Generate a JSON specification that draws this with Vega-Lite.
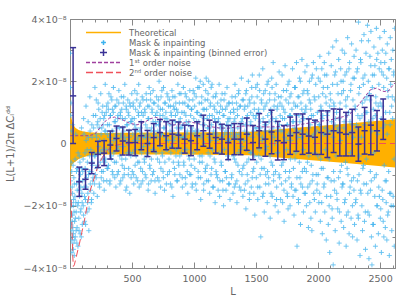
{
"$schema":"https://vega.github.io/schema/vega-lite/v6.json",
"width":325,"height":249,"autosize":"none",
"padding":{"left":70,"top":19,"right":12,"bottom":39},
"background":"white",
"config":{"view":{"stroke":"#888"},"font":"DejaVu Sans",
 "axis":{"domainColor":"#888","tickColor":"#888","labelColor":"#666","titleColor":"#666","labelFont":"DejaVu Sans","labelFontSize":9.5,"titleFont":"DejaVu Sans","titleFontSize":10,"titleFontWeight":"normal","grid":false,"tickWidth":1,"domainWidth":1},
 "legend":{"labelFont":"DejaVu Sans","labelFontSize":8.5,"labelColor":"#666","clipHeight":9.2,"rowPadding":0,"padding":0,"labelOffset":7,"symbolOffset":0,"labelLimit":300,"symbolSize":1225,"symbolStrokeWidth":1.5}},
"datasets":{
"band":[{"l":2,"u":3.15,"d":-4},{"l":3,"u":1.4,"d":-1.6},{"l":5,"u":1.05,"d":-0.95},{"l":8,"u":0.9,"d":-0.82},{"l":12,"u":0.8,"d":-0.74},{"l":20,"u":0.68,"d":-0.66},{"l":30,"u":0.58,"d":-0.62},{"l":45,"u":0.5,"d":-0.58},{"l":70,"u":0.43,"d":-0.5},{"l":100,"u":0.39,"d":-0.45},{"l":150,"u":0.36,"d":-0.39},{"l":250,"u":0.34,"d":-0.35},{"l":700,"u":0.35,"d":-0.35},{"l":1100,"u":0.36,"d":-0.36},{"l":1450,"u":0.38,"d":-0.38},{"l":1800,"u":0.5,"d":-0.49},{"l":2200,"u":0.63,"d":-0.62},{"l":2620,"u":0.78,"d":-0.77}],
"n1":[{"l":2,"v":0.25},{"l":150,"v":0.25},{"l":200,"v":0.3},{"l":240,"v":0.5},{"l":280,"v":0.7},{"l":320,"v":0.82},{"l":360,"v":0.85},{"l":420,"v":0.77},{"l":480,"v":0.65},{"l":540,"v":0.6},{"l":600,"v":0.68},{"l":650,"v":0.8},{"l":690,"v":0.84},{"l":730,"v":0.8},{"l":780,"v":0.68},{"l":830,"v":0.59},{"l":890,"v":0.63},{"l":960,"v":0.7},{"l":1040,"v":0.63},{"l":1120,"v":0.55},{"l":1200,"v":0.5},{"l":1280,"v":0.49},{"l":1360,"v":0.55},{"l":1440,"v":0.57},{"l":1520,"v":0.54},{"l":1600,"v":0.53},{"l":1700,"v":0.55},{"l":1800,"v":0.57},{"l":1900,"v":0.64},{"l":2000,"v":0.7},{"l":2100,"v":0.76},{"l":2180,"v":0.84},{"l":2240,"v":0.9},{"l":2300,"v":1.1},{"l":2360,"v":1.42},{"l":2420,"v":1.72},{"l":2470,"v":1.78},{"l":2520,"v":1.68},{"l":2560,"v":1.66},{"l":2620,"v":1.95}],
"n2":[{"l":3,"v":-1.1},{"l":8,"v":-1.6},{"l":12,"v":-2.2},{"l":17,"v":-2.9},{"l":22,"v":-3.6},{"l":27,"v":-3.95},{"l":35,"v":-3.9},{"l":50,"v":-3.65},{"l":77,"v":-3.2},{"l":117,"v":-2.45},{"l":158,"v":-1.57},{"l":184,"v":-1.25},{"l":220,"v":-0.8},{"l":260,"v":-0.45},{"l":300,"v":-0.22},{"l":350,"v":-0.08},{"l":420,"v":-0.01},{"l":500,"v":0},{"l":2620,"v":0}],
"bins":[{"l":25,"a":0,"b":50,"v":1.53,"lo":0.0,"hi":3.08},{"l":75,"a":50,"b":100,"v":-1.23,"lo":-1.7,"hi":-0.76},{"l":125,"a":100,"b":150,"v":-1.15,"lo":-1.47,"hi":-0.83},{"l":175,"a":150,"b":200,"v":-0.63,"lo":-0.97,"hi":-0.29},{"l":225,"a":200,"b":250,"v":-0.35,"lo":-0.77,"hi":0.07},{"l":275,"a":250,"b":300,"v":-0.31,"lo":-0.71,"hi":0.09},{"l":325,"a":300,"b":350,"v":-0.05,"lo":-0.5,"hi":0.4},{"l":375,"a":350,"b":400,"v":0.16,"lo":-0.24,"hi":0.56},{"l":425,"a":400,"b":450,"v":0.08,"lo":-0.37,"hi":0.53},{"l":475,"a":450,"b":500,"v":0.03,"lo":-0.37,"hi":0.43},{"l":525,"a":500,"b":550,"v":0.03,"lo":-0.39,"hi":0.45},{"l":575,"a":550,"b":600,"v":0.25,"lo":-0.2,"hi":0.7},{"l":625,"a":600,"b":650,"v":0.0,"lo":-0.42,"hi":0.42},{"l":675,"a":650,"b":700,"v":0.19,"lo":-0.26,"hi":0.64},{"l":725,"a":700,"b":750,"v":0.35,"lo":-0.07,"hi":0.77},{"l":775,"a":750,"b":800,"v":0.25,"lo":-0.2,"hi":0.7},{"l":825,"a":800,"b":850,"v":0.3,"lo":-0.15,"hi":0.75},{"l":875,"a":850,"b":900,"v":0.27,"lo":-0.15,"hi":0.69},{"l":925,"a":900,"b":950,"v":0.14,"lo":-0.31,"hi":0.59},{"l":975,"a":950,"b":1000,"v":0.09,"lo":-0.39,"hi":0.57},{"l":1025,"a":1000,"b":1050,"v":0.25,"lo":-0.2,"hi":0.7},{"l":1075,"a":1050,"b":1100,"v":0.41,"lo":-0.09,"hi":0.91},{"l":1125,"a":1100,"b":1150,"v":0.3,"lo":-0.15,"hi":0.75},{"l":1175,"a":1150,"b":1200,"v":0.19,"lo":-0.31,"hi":0.69},{"l":1225,"a":1200,"b":1250,"v":0.14,"lo":-0.34,"hi":0.62},{"l":1275,"a":1250,"b":1300,"v":0.03,"lo":-0.52,"hi":0.58},{"l":1325,"a":1300,"b":1350,"v":0.14,"lo":-0.36,"hi":0.64},{"l":1375,"a":1350,"b":1400,"v":0.14,"lo":-0.36,"hi":0.64},{"l":1425,"a":1400,"b":1450,"v":0.3,"lo":-0.22,"hi":0.82},{"l":1475,"a":1450,"b":1500,"v":0.03,"lo":-0.52,"hi":0.58},{"l":1525,"a":1500,"b":1550,"v":0.41,"lo":-0.14,"hi":0.96},{"l":1575,"a":1550,"b":1600,"v":0.14,"lo":-0.41,"hi":0.69},{"l":1625,"a":1600,"b":1650,"v":0.37,"lo":-0.33,"hi":1.07},{"l":1675,"a":1650,"b":1700,"v":0.09,"lo":-0.53,"hi":0.71},{"l":1725,"a":1700,"b":1750,"v":0.03,"lo":-0.52,"hi":0.58},{"l":1775,"a":1750,"b":1800,"v":0.25,"lo":-0.35,"hi":0.85},{"l":1825,"a":1800,"b":1850,"v":0.35,"lo":-0.25,"hi":0.95},{"l":1875,"a":1850,"b":1900,"v":0.3,"lo":-0.35,"hi":0.95},{"l":1925,"a":1900,"b":1950,"v":0.24,"lo":-0.31,"hi":0.79},{"l":1975,"a":1950,"b":2000,"v":0.2,"lo":-0.35,"hi":0.75},{"l":2025,"a":2000,"b":2050,"v":0.35,"lo":-0.35,"hi":1.05},{"l":2075,"a":2050,"b":2100,"v":0.3,"lo":-0.45,"hi":1.05},{"l":2125,"a":2100,"b":2150,"v":0.41,"lo":-0.29,"hi":1.11},{"l":2175,"a":2150,"b":2200,"v":0.35,"lo":-0.4,"hi":1.1},{"l":2225,"a":2200,"b":2250,"v":0.3,"lo":-0.4,"hi":1.0},{"l":2275,"a":2250,"b":2300,"v":0.35,"lo":-0.4,"hi":1.1},{"l":2325,"a":2300,"b":2350,"v":-0.02,"lo":-0.57,"hi":0.53},{"l":2375,"a":2350,"b":2400,"v":0.41,"lo":-0.34,"hi":1.16},{"l":2425,"a":2400,"b":2450,"v":0.59,"lo":-0.36,"hi":1.54},{"l":2475,"a":2450,"b":2500,"v":0.41,"lo":-0.24,"hi":1.06},{"l":2525,"a":2500,"b":2550,"v":0.78,"lo":0.13,"hi":1.43}],
"pts":[{"l":3,"v":2.9},{"l":4,"v":1.8},{"l":5,"v":-1.2},{"l":6,"v":0.9},{"l":7,"v":-2.6},{"l":8,"v":1.3},{"l":9,"v":-0.6},{"l":10,"v":-3.1},{"l":12,"v":-1.9},{"l":13,"v":0.4},{"l":15,"v":-2.8},{"l":16,"v":-3.5},{"l":18,"v":-1.4},{"l":20,"v":-2.3},{"l":22,"v":0.6},{"l":24,"v":-3.2},{"l":26,"v":-2.0},{"l":28,"v":-2.9},{"l":31,"v":-1.1},{"l":34,"v":-3.6},{"l":37,"v":-2.5},{"l":40,"v":-1.7},{"l":43,"v":-3.0},{"l":46,"v":0.3},{"l":50,"v":-2.2},{"l":53,"v":-1.3},{"l":57,"v":-2.7},{"l":60,"v":-0.8},{"l":64,"v":-3.3},{"l":67,"v":-1.9},{"l":71,"v":-2.4},{"l":75,"v":-0.4},{"l":78,"v":-1.5},{"l":82,"v":-2.9},{"l":85,"v":-1.0},{"l":89,"v":-2.1},{"l":93,"v":0.5},{"l":96,"v":-1.6},{"l":99,"v":-2.6},
{"l":11,"v":-2.0},{"l":14,"v":-0.9},{"l":17,"v":-2.5},{"l":19,"v":-3.0},{"l":21,"v":-1.6},{"l":23,"v":-2.7},{"l":25,"v":-0.7},{"l":27,"v":-3.4},{"l":29,"v":-1.8},{"l":32,"v":-2.2},{"l":35,"v":-1.3},{"l":38,"v":-3.1},{"l":41,"v":-0.5},{"l":44,"v":-2.4},{"l":47,"v":-1.9},{"l":49,"v":-2.8},{"l":52,"v":-0.9},{"l":55,"v":-3.2},{"l":58,"v":-1.5},{"l":62,"v":-2.0},{"l":65,"v":-0.3},{"l":69,"v":-1.2},{"l":73,"v":-2.8},{"l":77,"v":-1.7},{"l":80,"v":-0.6},{"l":84,"v":-2.2},{"l":87,"v":-1.4},{"l":91,"v":-3.0},{"l":95,"v":-0.8},{"l":98,"v":-1.9},
{"l":103,"v":-0.9},{"l":107,"v":-2.0},{"l":110,"v":0.8},{"l":114,"v":-1.4},{"l":118,"v":-2.5},{"l":121,"v":-0.3},{"l":125,"v":-1.8},{"l":129,"v":1.2},{"l":133,"v":-1.1},{"l":137,"v":-2.2},{"l":140,"v":-0.6},{"l":144,"v":-1.6},{"l":148,"v":0.2},{"l":152,"v":-2.8},{"l":156,"v":-0.9},{"l":160,"v":1.5},{"l":164,"v":-1.3},{"l":168,"v":-0.2},{"l":172,"v":-1.9},{"l":176,"v":0.6},{"l":180,"v":-0.7},{"l":184,"v":-1.2},{"l":188,"v":0.9},{"l":192,"v":-1.6},{"l":196,"v":-0.4},
{"l":102,"v":-1.2},{"l":106,"v":-0.5},{"l":109,"v":-2.3},{"l":113,"v":0.3},{"l":117,"v":-1.7},{"l":122,"v":-0.8},{"l":126,"v":-2.6},{"l":130,"v":0.1},{"l":134,"v":-1.4},{"l":138,"v":-0.2},{"l":142,"v":-1.9},{"l":146,"v":0.7},{"l":150,"v":-1.0},{"l":154,"v":-2.1},{"l":158,"v":-0.4},{"l":162,"v":0.4},{"l":166,"v":-1.5},{"l":170,"v":-0.9},{"l":174,"v":-1.8},{"l":178,"v":0.2},{"l":182,"v":-0.6},{"l":186,"v":-1.1},{"l":190,"v":0.5},{"l":194,"v":-0.3},{"l":198,"v":-1.3},
{"l":201,"v":1.8},{"l":205,"v":-1.0},{"l":209,"v":0.3},{"l":212,"v":1.4},{"l":216,"v":-0.8},{"l":220,"v":-1.7},{"l":224,"v":0.7},{"l":228,"v":-0.3},{"l":232,"v":1.1},{"l":236,"v":-1.3},{"l":240,"v":0.1},{"l":244,"v":-0.6},{"l":248,"v":1.6},{"l":252,"v":-1.1},{"l":256,"v":0.5},{"l":260,"v":-0.2},{"l":264,"v":1.2},{"l":268,"v":-0.9},{"l":272,"v":0.8},{"l":276,"v":-1.5},{"l":280,"v":0.4},{"l":284,"v":1.9},{"l":288,"v":-0.5},{"l":292,"v":1.0},{"l":296,"v":-1.2},
{"l":203,"v":-0.4},{"l":207,"v":0.9},{"l":211,"v":-1.1},{"l":215,"v":0.2},{"l":219,"v":0.6},{"l":223,"v":-0.7},{"l":227,"v":1.3},{"l":231,"v":-0.1},{"l":235,"v":0.5},{"l":239,"v":-1.4},{"l":243,"v":0.8},{"l":247,"v":-0.3},{"l":251,"v":0.3},{"l":255,"v":-0.9},{"l":259,"v":1.0},{"l":263,"v":-0.5},{"l":267,"v":0.6},{"l":271,"v":-1.2},{"l":275,"v":0.1},{"l":279,"v":0.9},{"l":283,"v":-0.6},{"l":287,"v":0.4},{"l":291,"v":-0.2},{"l":295,"v":1.2},{"l":299,"v":-0.8},
{"l":302,"v":0.6},{"l":306,"v":1.3},{"l":310,"v":-0.7},{"l":314,"v":1.6},{"l":318,"v":0.2},{"l":322,"v":-1.2},{"l":326,"v":0.9},{"l":330,"v":1.5},{"l":334,"v":-0.4},{"l":338,"v":0.4},{"l":342,"v":1.1},{"l":346,"v":-1.0},{"l":350,"v":1.8},{"l":354,"v":0.1},{"l":358,"v":-0.6},{"l":362,"v":1.2},{"l":366,"v":0.7},{"l":370,"v":-1.4},{"l":374,"v":0.3},{"l":378,"v":1.4},{"l":382,"v":-0.2},{"l":386,"v":0.9},{"l":390,"v":-0.9},{"l":394,"v":1.7},{"l":398,"v":0.5},
{"l":301,"v":0.3},{"l":305,"v":-0.8},{"l":309,"v":1.1},{"l":313,"v":-0.2},{"l":317,"v":0.6},{"l":321,"v":-1.3},{"l":325,"v":0.9},{"l":329,"v":0.0},{"l":333,"v":-0.5},{"l":337,"v":1.4},{"l":341,"v":-0.9},{"l":345,"v":0.4},{"l":349,"v":1.0},{"l":353,"v":-0.3},{"l":357,"v":0.7},{"l":361,"v":-1.1},{"l":365,"v":0.2},{"l":369,"v":1.2},{"l":373,"v":-0.6},{"l":377,"v":0.5},{"l":381,"v":-1.0},{"l":385,"v":0.8},{"l":389,"v":-0.1},{"l":393,"v":1.3},
{"l":402,"v":-1.3},{"l":406,"v":1.0},{"l":410,"v":0.2},{"l":414,"v":1.5},{"l":418,"v":-0.5},{"l":422,"v":0.8},{"l":426,"v":-1.1},{"l":430,"v":1.3},{"l":434,"v":0.4},{"l":438,"v":-0.8},{"l":442,"v":1.9},{"l":446,"v":0.1},{"l":450,"v":-1.5},{"l":454,"v":1.1},{"l":458,"v":0.6},{"l":462,"v":-0.3},{"l":466,"v":1.4},{"l":470,"v":-1.0},{"l":474,"v":0.9},{"l":478,"v":0.2},{"l":482,"v":-1.6},{"l":486,"v":1.2},{"l":490,"v":-0.4},{"l":494,"v":0.7},{"l":498,"v":1.6},
{"l":401,"v":-0.4},{"l":405,"v":0.9},{"l":409,"v":-1.2},{"l":413,"v":0.3},{"l":417,"v":1.1},{"l":421,"v":-0.7},{"l":425,"v":0.5},{"l":429,"v":-0.1},{"l":433,"v":1.5},{"l":437,"v":-1.0},{"l":441,"v":0.2},{"l":445,"v":0.8},{"l":449,"v":-0.5},{"l":453,"v":1.2},{"l":457,"v":-1.4},{"l":461,"v":0.6},{"l":465,"v":0.0},{"l":469,"v":1.0},{"l":473,"v":-0.8},{"l":477,"v":0.4},{"l":481,"v":1.3},{"l":485,"v":-0.3},{"l":489,"v":0.7},{"l":493,"v":-1.1},
{"l":502,"v":-0.9},{"l":506,"v":0.3},{"l":510,"v":1.2},{"l":514,"v":-1.3},{"l":518,"v":0.8},{"l":522,"v":1.7},{"l":526,"v":-0.2},{"l":530,"v":0.5},{"l":534,"v":-1.1},{"l":538,"v":1.4},{"l":542,"v":0.1},{"l":546,"v":-0.6},{"l":550,"v":1.0},{"l":554,"v":1.9},{"l":558,"v":-1.4},{"l":562,"v":0.4},{"l":566,"v":1.3},{"l":570,"v":-0.8},{"l":574,"v":0.7},{"l":578,"v":-0.3},{"l":582,"v":1.5},{"l":586,"v":-1.2},{"l":590,"v":0.9},{"l":594,"v":0.2},{"l":598,"v":-0.5},
{"l":501,"v":0.8},{"l":505,"v":-0.3},{"l":509,"v":1.3},{"l":513,"v":-1.0},{"l":517,"v":0.1},{"l":521,"v":0.6},{"l":525,"v":-0.7},{"l":529,"v":1.1},{"l":533,"v":-0.4},{"l":537,"v":0.4},{"l":541,"v":1.6},{"l":545,"v":-1.2},{"l":549,"v":0.2},{"l":553,"v":0.9},{"l":557,"v":-0.6},{"l":561,"v":1.2},{"l":565,"v":-0.2},{"l":569,"v":0.5},{"l":573,"v":-1.3},{"l":577,"v":1.0},{"l":581,"v":0.3},{"l":585,"v":-0.9},{"l":589,"v":1.4},{"l":593,"v":-0.1},
{"l":602,"v":1.1},{"l":606,"v":-1.0},{"l":610,"v":0.6},{"l":614,"v":1.6},{"l":618,"v":-0.4},{"l":622,"v":0.3},{"l":626,"v":1.2},{"l":630,"v":-1.5},{"l":634,"v":0.8},{"l":638,"v":1.8},{"l":642,"v":-0.7},{"l":646,"v":0.2},{"l":650,"v":1.4},{"l":654,"v":-1.2},{"l":658,"v":0.5},{"l":662,"v":1.0},{"l":666,"v":-0.2},{"l":670,"v":1.7},{"l":674,"v":-0.9},{"l":678,"v":0.4},{"l":682,"v":1.3},{"l":686,"v":-1.6},{"l":690,"v":0.7},{"l":694,"v":-0.3},{"l":698,"v":1.5},
{"l":601,"v":-0.6},{"l":605,"v":1.0},{"l":609,"v":0.2},{"l":613,"v":-1.1},{"l":617,"v":1.4},{"l":621,"v":0.5},{"l":625,"v":-0.3},{"l":629,"v":0.8},{"l":633,"v":-1.3},{"l":637,"v":1.2},{"l":641,"v":0.0},{"l":645,"v":-0.8},{"l":649,"v":1.6},{"l":653,"v":0.4},{"l":657,"v":-0.5},{"l":661,"v":1.1},{"l":665,"v":-1.0},{"l":669,"v":0.7},{"l":673,"v":1.3},{"l":677,"v":-0.2},{"l":681,"v":0.3},{"l":685,"v":-1.2},{"l":689,"v":0.9},{"l":693,"v":0.6},
{"l":702,"v":0.2},{"l":706,"v":-1.1},{"l":710,"v":1.2},{"l":714,"v":0.6},{"l":718,"v":2.0},{"l":722,"v":-0.6},{"l":726,"v":0.9},{"l":730,"v":-1.4},{"l":734,"v":1.5},{"l":738,"v":0.3},{"l":742,"v":-0.3},{"l":746,"v":1.1},{"l":750,"v":-0.9},{"l":754,"v":1.8},{"l":758,"v":0.5},{"l":762,"v":-1.5},{"l":766,"v":0.8},{"l":770,"v":1.3},{"l":774,"v":-0.2},{"l":778,"v":0.1},{"l":782,"v":1.6},{"l":786,"v":-1.0},{"l":790,"v":0.7},{"l":794,"v":1.2},{"l":798,"v":-0.5},
{"l":701,"v":1.0},{"l":705,"v":-0.5},{"l":709,"v":0.4},{"l":713,"v":1.4},{"l":717,"v":-1.2},{"l":721,"v":0.7},{"l":725,"v":-0.1},{"l":729,"v":1.1},{"l":733,"v":-0.8},{"l":737,"v":0.3},{"l":741,"v":1.7},{"l":745,"v":-0.4},{"l":749,"v":0.9},{"l":753,"v":-1.1},{"l":757,"v":0.5},{"l":761,"v":1.3},{"l":765,"v":-0.6},{"l":769,"v":0.2},{"l":773,"v":1.0},{"l":777,"v":-1.3},{"l":781,"v":0.8},{"l":785,"v":-0.2},{"l":789,"v":1.5},{"l":793,"v":0.1},
{"l":802,"v":1.4},{"l":806,"v":0.4},{"l":810,"v":-1.3},{"l":814,"v":1.0},{"l":818,"v":-0.1},{"l":822,"v":1.7},{"l":826,"v":0.6},{"l":830,"v":-1.7},{"l":834,"v":1.2},{"l":838,"v":0.2},{"l":842,"v":-0.8},{"l":846,"v":1.5},{"l":850,"v":0.9},{"l":854,"v":-0.4},{"l":858,"v":1.1},{"l":862,"v":-1.2},{"l":866,"v":0.3},{"l":870,"v":1.9},{"l":874,"v":-0.6},{"l":878,"v":0.7},{"l":882,"v":1.3},{"l":886,"v":-1.0},{"l":890,"v":0.5},{"l":894,"v":1.6},{"l":898,"v":-0.3},
{"l":801,"v":-0.9},{"l":805,"v":0.6},{"l":809,"v":1.2},{"l":813,"v":-0.3},{"l":817,"v":0.9},{"l":821,"v":-1.4},{"l":825,"v":0.4},{"l":829,"v":1.5},{"l":833,"v":-0.6},{"l":837,"v":0.1},{"l":841,"v":1.1},{"l":845,"v":-1.0},{"l":849,"v":0.7},{"l":853,"v":1.3},{"l":857,"v":-0.2},{"l":861,"v":0.5},{"l":865,"v":-1.2},{"l":869,"v":1.0},{"l":873,"v":0.3},{"l":877,"v":-0.7},{"l":881,"v":1.6},{"l":885,"v":-0.4},{"l":889,"v":0.8},{"l":893,"v":0.2},
{"l":902,"v":1.0},{"l":906,"v":-1.4},{"l":910,"v":0.6},{"l":914,"v":1.8},{"l":918,"v":-0.7},{"l":922,"v":0.2},{"l":926,"v":1.3},{"l":930,"v":-1.1},{"l":934,"v":0.9},{"l":938,"v":1.5},{"l":942,"v":-0.2},{"l":946,"v":0.4},{"l":950,"v":-1.6},{"l":954,"v":1.2},{"l":958,"v":0.7},{"l":962,"v":-0.5},{"l":966,"v":1.7},{"l":970,"v":0.1},{"l":974,"v":-1.0},{"l":978,"v":1.1},{"l":982,"v":0.5},{"l":986,"v":-1.3},{"l":990,"v":1.4},{"l":994,"v":-0.3},{"l":998,"v":0.8},
{"l":901,"v":0.5},{"l":905,"v":-1.1},{"l":909,"v":1.3},{"l":913,"v":0.2},{"l":917,"v":-0.6},{"l":921,"v":1.0},{"l":925,"v":-0.2},{"l":929,"v":1.6},{"l":933,"v":-1.3},{"l":937,"v":0.7},{"l":941,"v":0.3},{"l":945,"v":-0.9},{"l":949,"v":1.2},{"l":953,"v":0.6},{"l":957,"v":-0.4},{"l":961,"v":1.4},{"l":965,"v":-1.0},{"l":969,"v":0.1},{"l":973,"v":0.9},{"l":977,"v":-0.7},{"l":981,"v":1.1},{"l":985,"v":-1.4},{"l":989,"v":0.4},{"l":993,"v":1.7},
{"l":1002,"v":1.6},{"l":1006,"v":-0.8},{"l":1010,"v":0.4},{"l":1014,"v":2.1},{"l":1018,"v":-1.5},{"l":1022,"v":1.0},{"l":1026,"v":0.2},{"l":1030,"v":1.8},{"l":1034,"v":-1.1},{"l":1038,"v":0.7},{"l":1042,"v":1.3},{"l":1046,"v":-0.4},{"l":1050,"v":2.0},{"l":1054,"v":-1.8},{"l":1058,"v":0.9},{"l":1062,"v":1.5},{"l":1066,"v":-0.6},{"l":1070,"v":0.3},{"l":1074,"v":1.9},{"l":1078,"v":-1.3},{"l":1082,"v":1.1},{"l":1086,"v":0.6},{"l":1090,"v":-0.9},{"l":1094,"v":1.7},{"l":1098,"v":2.1},
{"l":1001,"v":-0.5},{"l":1005,"v":1.2},{"l":1009,"v":0.3},{"l":1013,"v":-1.3},{"l":1017,"v":1.5},{"l":1021,"v":0.7},{"l":1025,"v":-0.2},{"l":1029,"v":1.0},{"l":1033,"v":-0.9},{"l":1037,"v":0.4},{"l":1041,"v":1.8},{"l":1045,"v":-0.6},{"l":1049,"v":0.9},{"l":1053,"v":-1.1},{"l":1057,"v":0.2},{"l":1061,"v":1.3},{"l":1065,"v":-0.4},{"l":1069,"v":0.6},{"l":1073,"v":1.1},{"l":1077,"v":-1.5},{"l":1081,"v":0.8},{"l":1085,"v":0.0},{"l":1089,"v":1.4},{"l":1093,"v":-0.8},
{"l":1102,"v":-1.2},{"l":1106,"v":0.8},{"l":1110,"v":1.4},{"l":1114,"v":-0.3},{"l":1118,"v":2.0},{"l":1122,"v":0.5},{"l":1126,"v":-1.6},{"l":1130,"v":1.2},{"l":1134,"v":0.1},{"l":1138,"v":1.8},{"l":1142,"v":-0.8},{"l":1146,"v":0.9},{"l":1150,"v":-1.4},{"l":1154,"v":1.5},{"l":1158,"v":0.4},{"l":1162,"v":-0.5},{"l":1166,"v":1.1},{"l":1170,"v":-1.9},{"l":1174,"v":0.7},{"l":1178,"v":1.6},{"l":1182,"v":-1.0},{"l":1186,"v":0.3},{"l":1190,"v":1.3},{"l":1194,"v":-1.5},{"l":1198,"v":0.8},
{"l":1101,"v":1.1},{"l":1105,"v":-0.7},{"l":1109,"v":0.5},{"l":1113,"v":1.6},{"l":1117,"v":-1.2},{"l":1121,"v":0.2},{"l":1125,"v":0.9},{"l":1129,"v":-0.4},{"l":1133,"v":1.3},{"l":1137,"v":-1.0},{"l":1141,"v":0.6},{"l":1145,"v":1.9},{"l":1149,"v":-0.2},{"l":1153,"v":0.3},{"l":1157,"v":-1.4},{"l":1161,"v":1.2},{"l":1165,"v":0.8},{"l":1169,"v":-0.6},{"l":1173,"v":1.5},{"l":1177,"v":-0.9},{"l":1181,"v":0.1},{"l":1185,"v":1.0},{"l":1189,"v":-1.1},{"l":1193,"v":0.7},
{"l":1202,"v":1.9},{"l":1206,"v":-1.7},{"l":1210,"v":0.5},{"l":1214,"v":1.2},{"l":1218,"v":-0.6},{"l":1222,"v":0.2},{"l":1226,"v":1.6},{"l":1230,"v":-1.2},{"l":1234,"v":0.9},{"l":1238,"v":-2.0},{"l":1242,"v":1.4},{"l":1246,"v":0.3},{"l":1250,"v":-0.9},{"l":1254,"v":1.1},{"l":1258,"v":-1.5},{"l":1262,"v":0.6},{"l":1266,"v":1.8},{"l":1270,"v":-0.4},{"l":1274,"v":0.8},{"l":1278,"v":-1.3},{"l":1282,"v":1.3},{"l":1286,"v":0.1},{"l":1290,"v":-1.8},{"l":1294,"v":1.0},{"l":1298,"v":0.5},
{"l":1201,"v":-0.3},{"l":1205,"v":1.0},{"l":1209,"v":-1.2},{"l":1213,"v":0.6},{"l":1217,"v":1.4},{"l":1221,"v":-0.7},{"l":1225,"v":0.2},{"l":1229,"v":1.1},{"l":1233,"v":-1.5},{"l":1237,"v":0.5},{"l":1241,"v":0.9},{"l":1245,"v":-0.2},{"l":1249,"v":1.6},{"l":1253,"v":-0.9},{"l":1257,"v":0.4},{"l":1261,"v":-1.1},{"l":1265,"v":1.2},{"l":1269,"v":0.1},{"l":1273,"v":0.7},{"l":1277,"v":-0.5},{"l":1281,"v":1.3},{"l":1285,"v":-1.3},{"l":1289,"v":0.8},{"l":1293,"v":0.3},
{"l":1302,"v":-1.1},{"l":1306,"v":1.5},{"l":1310,"v":0.4},{"l":1314,"v":-1.6},{"l":1318,"v":1.1},{"l":1322,"v":0.7},{"l":1326,"v":-0.5},{"l":1330,"v":1.9},{"l":1334,"v":-1.3},{"l":1338,"v":0.2},{"l":1342,"v":1.3},{"l":1346,"v":-1.9},{"l":1350,"v":0.9},{"l":1354,"v":-0.7},{"l":1358,"v":1.6},{"l":1362,"v":0.3},{"l":1366,"v":-1.4},{"l":1370,"v":1.2},{"l":1374,"v":-0.2},{"l":1378,"v":0.6},{"l":1382,"v":2.1},{"l":1386,"v":-1.0},{"l":1390,"v":0.8},{"l":1394,"v":-1.7},{"l":1398,"v":1.4},
{"l":1301,"v":0.6},{"l":1305,"v":-1.0},{"l":1309,"v":1.3},{"l":1313,"v":0.2},{"l":1317,"v":-0.4},{"l":1321,"v":1.0},{"l":1325,"v":-1.4},{"l":1329,"v":0.8},{"l":1333,"v":1.5},{"l":1337,"v":-0.6},{"l":1341,"v":0.3},{"l":1345,"v":-1.2},{"l":1349,"v":1.1},{"l":1353,"v":0.5},{"l":1357,"v":-0.3},{"l":1361,"v":1.7},{"l":1365,"v":-0.9},{"l":1369,"v":0.1},{"l":1373,"v":1.2},{"l":1377,"v":-1.5},{"l":1381,"v":0.7},{"l":1385,"v":-0.1},{"l":1389,"v":1.4},{"l":1393,"v":-0.8},
{"l":1402,"v":0.1},{"l":1406,"v":-1.5},{"l":1410,"v":1.2},{"l":1414,"v":0.6},{"l":1418,"v":-2.1},{"l":1422,"v":1.7},{"l":1426,"v":-0.6},{"l":1430,"v":0.9},{"l":1434,"v":-1.2},{"l":1438,"v":2.0},{"l":1442,"v":0.3},{"l":1446,"v":-1.8},{"l":1450,"v":1.3},{"l":1454,"v":-0.3},{"l":1458,"v":0.7},{"l":1462,"v":-1.4},{"l":1466,"v":1.5},{"l":1470,"v":2.2},{"l":1474,"v":-0.9},{"l":1478,"v":0.4},{"l":1482,"v":-1.6},{"l":1486,"v":1.1},{"l":1490,"v":-2.3},{"l":1494,"v":0.8},{"l":1498,"v":1.8},
{"l":1401,"v":-0.7},{"l":1405,"v":1.1},{"l":1409,"v":0.4},{"l":1413,"v":-1.3},{"l":1417,"v":1.6},{"l":1421,"v":-0.2},{"l":1425,"v":0.8},{"l":1429,"v":-1.0},{"l":1433,"v":1.2},{"l":1437,"v":0.3},{"l":1441,"v":-0.5},{"l":1445,"v":1.4},{"l":1449,"v":-1.6},{"l":1453,"v":0.6},{"l":1457,"v":1.0},{"l":1461,"v":-0.3},{"l":1465,"v":1.8},{"l":1469,"v":-1.1},{"l":1473,"v":0.2},{"l":1477,"v":0.9},{"l":1481,"v":-0.8},{"l":1485,"v":1.3},{"l":1489,"v":-0.4},{"l":1493,"v":0.5},
{"l":1502,"v":-1.1},{"l":1506,"v":0.5},{"l":1510,"v":1.9},{"l":1514,"v":-1.8},{"l":1518,"v":1.0},{"l":1522,"v":-0.4},{"l":1526,"v":2.2},{"l":1530,"v":-1.4},{"l":1534,"v":0.7},{"l":1538,"v":-3.0},{"l":1542,"v":1.4},{"l":1546,"v":-0.8},{"l":1550,"v":0.2},{"l":1554,"v":2.4},{"l":1558,"v":-1.6},{"l":1562,"v":1.1},{"l":1566,"v":-2.2},{"l":1570,"v":0.6},{"l":1574,"v":1.7},{"l":1578,"v":-1.0},{"l":1582,"v":-0.2},{"l":1586,"v":1.3},{"l":1590,"v":-1.9},{"l":1594,"v":0.9},{"l":1598,"v":2.0},
{"l":1501,"v":0.9},{"l":1505,"v":-0.6},{"l":1509,"v":1.5},{"l":1513,"v":-1.4},{"l":1517,"v":0.3},{"l":1521,"v":1.1},{"l":1525,"v":-0.2},{"l":1529,"v":1.7},{"l":1533,"v":-1.0},{"l":1537,"v":0.5},{"l":1541,"v":-0.5},{"l":1545,"v":1.3},{"l":1549,"v":0.1},{"l":1553,"v":-1.7},{"l":1557,"v":0.8},{"l":1561,"v":1.6},{"l":1565,"v":-0.8},{"l":1569,"v":0.4},{"l":1573,"v":1.2},{"l":1577,"v":-1.3},{"l":1581,"v":0.6},{"l":1585,"v":-0.1},{"l":1589,"v":1.9},{"l":1593,"v":-0.9},
{"l":1602,"v":-1.3},{"l":1606,"v":0.4},{"l":1610,"v":1.6},{"l":1614,"v":-2.4},{"l":1618,"v":1.1},{"l":1622,"v":-0.6},{"l":1626,"v":2.1},{"l":1630,"v":-1.7},{"l":1634,"v":0.8},{"l":1638,"v":2.6},{"l":1642,"v":-1.0},{"l":1646,"v":0.2},{"l":1650,"v":1.4},{"l":1654,"v":-2.0},{"l":1658,"v":0.7},{"l":1662,"v":1.9},{"l":1666,"v":-1.4},{"l":1670,"v":-0.3},{"l":1674,"v":1.2},{"l":1678,"v":-2.2},{"l":1682,"v":0.5},{"l":1686,"v":2.3},{"l":1690,"v":-1.1},{"l":1694,"v":0.9},{"l":1698,"v":-1.8},
{"l":1601,"v":-1.1},{"l":1605,"v":0.7},{"l":1609,"v":1.4},{"l":1613,"v":-0.4},{"l":1617,"v":1.0},{"l":1621,"v":-1.6},{"l":1625,"v":0.3},{"l":1629,"v":1.8},{"l":1633,"v":-0.7},{"l":1637,"v":0.5},{"l":1641,"v":-1.2},{"l":1645,"v":1.2},{"l":1649,"v":0.0},{"l":1653,"v":1.6},{"l":1657,"v":-0.9},{"l":1661,"v":0.8},{"l":1665,"v":-1.8},{"l":1669,"v":1.1},{"l":1673,"v":0.4},{"l":1677,"v":-0.3},{"l":1681,"v":1.5},{"l":1685,"v":-1.0},{"l":1689,"v":0.6},{"l":1693,"v":1.3},
{"l":1702,"v":1.5},{"l":1706,"v":-0.7},{"l":1710,"v":2.2},{"l":1714,"v":-1.9},{"l":1718,"v":0.4},{"l":1722,"v":1.1},{"l":1726,"v":-2.5},{"l":1730,"v":0.8},{"l":1734,"v":2.5},{"l":1738,"v":-1.2},{"l":1742,"v":0.1},{"l":1746,"v":1.7},{"l":1750,"v":-1.6},{"l":1754,"v":0.6},{"l":1758,"v":-2.1},{"l":1762,"v":1.3},{"l":1766,"v":2.0},{"l":1770,"v":-0.9},{"l":1774,"v":-2.0},{"l":1778,"v":0.9},{"l":1782,"v":1.6},{"l":1786,"v":-1.3},{"l":1790,"v":0.3},{"l":1794,"v":2.4},{"l":1798,"v":-1.7},
{"l":1701,"v":0.4},{"l":1705,"v":-1.3},{"l":1709,"v":1.2},{"l":1713,"v":0.8},{"l":1717,"v":-0.6},{"l":1721,"v":1.7},{"l":1725,"v":-1.5},{"l":1729,"v":0.2},{"l":1733,"v":1.0},{"l":1737,"v":-0.9},{"l":1741,"v":1.4},{"l":1745,"v":-0.2},{"l":1749,"v":0.6},{"l":1753,"v":-1.7},{"l":1757,"v":1.9},{"l":1761,"v":0.3},{"l":1765,"v":-1.1},{"l":1769,"v":0.9},{"l":1773,"v":1.5},{"l":1777,"v":-0.5},{"l":1781,"v":0.1},{"l":1785,"v":-1.4},{"l":1789,"v":1.1},{"l":1793,"v":0.7},
{"l":1802,"v":0.7},{"l":1806,"v":-2.3},{"l":1810,"v":1.8},{"l":1814,"v":-0.5},{"l":1818,"v":1.2},{"l":1822,"v":-1.5},{"l":1826,"v":2.6},{"l":1830,"v":-3.3},{"l":1834,"v":0.4},{"l":1838,"v":1.5},{"l":1842,"v":-1.9},{"l":1846,"v":0.9},{"l":1850,"v":2.1},{"l":1854,"v":-1.1},{"l":1858,"v":-2.6},{"l":1862,"v":1.3},{"l":1866,"v":0.2},{"l":1870,"v":2.7},{"l":1874,"v":-1.4},{"l":1878,"v":0.8},{"l":1882,"v":-2.2},{"l":1886,"v":1.7},{"l":1890,"v":-0.8},{"l":1894,"v":2.3},{"l":1898,"v":-1.6},
{"l":1801,"v":-0.8},{"l":1805,"v":1.3},{"l":1809,"v":0.5},{"l":1813,"v":-1.5},{"l":1817,"v":1.8},{"l":1821,"v":-0.3},{"l":1825,"v":0.9},{"l":1829,"v":-1.1},{"l":1833,"v":1.2},{"l":1837,"v":0.2},{"l":1841,"v":-1.8},{"l":1845,"v":1.5},{"l":1849,"v":-0.6},{"l":1853,"v":0.7},{"l":1857,"v":2.0},{"l":1861,"v":-1.3},{"l":1865,"v":0.4},{"l":1869,"v":1.1},{"l":1873,"v":-0.9},{"l":1877,"v":1.6},{"l":1881,"v":-0.2},{"l":1885,"v":0.8},{"l":1889,"v":-1.6},{"l":1893,"v":1.0},
{"l":1902,"v":1.1},{"l":1906,"v":-2.0},{"l":1910,"v":2.5},{"l":1914,"v":-0.6},{"l":1918,"v":1.6},{"l":1922,"v":-2.7},{"l":1926,"v":0.5},{"l":1930,"v":2.0},{"l":1934,"v":-1.3},{"l":1938,"v":1.3},{"l":1942,"v":-2.4},{"l":1946,"v":0.9},{"l":1950,"v":-2.8},{"l":1954,"v":2.2},{"l":1958,"v":-1.0},{"l":1962,"v":2.6},{"l":1966,"v":0.3},{"l":1970,"v":-1.8},{"l":1974,"v":1.4},{"l":1978,"v":-2.2},{"l":1982,"v":0.7},{"l":1986,"v":2.4},{"l":1990,"v":-1.5},{"l":1994,"v":1.0},{"l":1998,"v":-0.4},
{"l":1901,"v":1.2},{"l":1905,"v":-0.9},{"l":1909,"v":0.3},{"l":1913,"v":1.7},{"l":1917,"v":-1.4},{"l":1921,"v":0.8},{"l":1925,"v":-0.4},{"l":1929,"v":1.4},{"l":1933,"v":-1.9},{"l":1937,"v":0.6},{"l":1941,"v":1.1},{"l":1945,"v":-0.7},{"l":1949,"v":2.1},{"l":1953,"v":-1.2},{"l":1957,"v":0.2},{"l":1961,"v":0.9},{"l":1965,"v":-1.6},{"l":1969,"v":1.5},{"l":1973,"v":-0.3},{"l":1977,"v":0.7},{"l":1981,"v":1.9},{"l":1985,"v":-1.0},{"l":1989,"v":0.4},{"l":1993,"v":-1.3},
{"l":2002,"v":2.1},{"l":2006,"v":-1.9},{"l":2010,"v":0.6},{"l":2014,"v":2.8},{"l":2018,"v":-2.5},{"l":2022,"v":1.2},{"l":2026,"v":-0.8},{"l":2030,"v":2.4},{"l":2034,"v":-2.9},{"l":2038,"v":0.9},{"l":2042,"v":1.8},{"l":2046,"v":-1.4},{"l":2050,"v":2.6},{"l":2054,"v":-2.2},{"l":2058,"v":0.3},{"l":2062,"v":1.5},{"l":2066,"v":-3.1},{"l":2070,"v":2.2},{"l":2074,"v":-1.1},{"l":2078,"v":1.0},{"l":2082,"v":-2.6},{"l":2086,"v":2.9},{"l":2090,"v":-0.5},{"l":2094,"v":-3.5},{"l":2098,"v":1.6},
{"l":2001,"v":-1.0},{"l":2005,"v":1.5},{"l":2009,"v":0.6},{"l":2013,"v":-1.6},{"l":2017,"v":2.0},{"l":2021,"v":-0.5},{"l":2025,"v":1.1},{"l":2029,"v":-1.9},{"l":2033,"v":0.8},{"l":2037,"v":1.6},{"l":2041,"v":-0.8},{"l":2045,"v":0.3},{"l":2049,"v":-1.3},{"l":2053,"v":2.2},{"l":2057,"v":0.5},{"l":2061,"v":-0.2},{"l":2065,"v":1.3},{"l":2069,"v":-1.7},{"l":2073,"v":0.9},{"l":2077,"v":1.8},{"l":2081,"v":-1.1},{"l":2085,"v":0.4},{"l":2089,"v":-2.0},{"l":2093,"v":1.2},
{"l":2102,"v":-1.7},{"l":2106,"v":2.5},{"l":2110,"v":0.4},{"l":2114,"v":-2.4},{"l":2118,"v":3.1},{"l":2122,"v":-3.9},{"l":2126,"v":1.3},{"l":2130,"v":-1.2},{"l":2134,"v":2.2},{"l":2138,"v":-2.8},{"l":2142,"v":0.8},{"l":2146,"v":3.3},{"l":2150,"v":-1.6},{"l":2154,"v":1.9},{"l":2158,"v":-2.1},{"l":2162,"v":0.5},{"l":2166,"v":2.7},{"l":2170,"v":-3.2},{"l":2174,"v":1.1},{"l":2178,"v":-0.9},{"l":2182,"v":2.4},{"l":2186,"v":-2.5},{"l":2190,"v":1.6},{"l":2194,"v":3.0},{"l":2198,"v":-1.3},
{"l":2101,"v":1.4},{"l":2105,"v":-1.2},{"l":2109,"v":0.7},{"l":2113,"v":-2.1},{"l":2117,"v":1.9},{"l":2121,"v":0.2},{"l":2125,"v":-0.9},{"l":2129,"v":1.2},{"l":2133,"v":-1.5},{"l":2137,"v":0.6},{"l":2141,"v":2.3},{"l":2145,"v":-0.4},{"l":2149,"v":1.0},{"l":2153,"v":-1.8},{"l":2157,"v":0.4},{"l":2161,"v":1.6},{"l":2165,"v":-1.1},{"l":2169,"v":0.8},{"l":2173,"v":-2.2},{"l":2177,"v":1.3},{"l":2181,"v":0.1},{"l":2185,"v":2.0},{"l":2189,"v":-0.7},{"l":2193,"v":-1.4},
{"l":2202,"v":2.0},{"l":2206,"v":-2.7},{"l":2210,"v":0.7},{"l":2214,"v":2.9},{"l":2218,"v":-1.8},{"l":2222,"v":1.4},{"l":2226,"v":-3.3},{"l":2230,"v":2.3},{"l":2234,"v":-0.8},{"l":2238,"v":3.4},{"l":2242,"v":-2.2},{"l":2246,"v":1.0},{"l":2250,"v":-2.9},{"l":2254,"v":2.6},{"l":2258,"v":-1.4},{"l":2262,"v":1.7},{"l":2266,"v":-2.4},{"l":2270,"v":3.2},{"l":2274,"v":0.4},{"l":2278,"v":-3.0},{"l":2282,"v":2.1},{"l":2286,"v":-1.1},{"l":2290,"v":2.8},{"l":2294,"v":-2.6},{"l":2298,"v":1.2},
{"l":2201,"v":-1.3},{"l":2205,"v":1.7},{"l":2209,"v":0.5},{"l":2213,"v":-1.9},{"l":2217,"v":2.2},{"l":2221,"v":-0.6},{"l":2225,"v":1.2},{"l":2229,"v":-2.3},{"l":2233,"v":0.9},{"l":2237,"v":1.5},{"l":2241,"v":-1.0},{"l":2245,"v":0.3},{"l":2249,"v":2.4},{"l":2253,"v":-1.6},{"l":2257,"v":0.7},{"l":2261,"v":-0.3},{"l":2265,"v":1.9},{"l":2269,"v":-1.2},{"l":2273,"v":0.6},{"l":2277,"v":-2.0},{"l":2281,"v":1.4},{"l":2285,"v":0.2},{"l":2289,"v":-1.5},{"l":2293,"v":2.1},
{"l":2302,"v":-1.9},{"l":2306,"v":3.0},{"l":2310,"v":0.6},{"l":2314,"v":-3.1},{"l":2318,"v":2.4},{"l":2322,"v":-2.3},{"l":2326,"v":3.9},{"l":2330,"v":-1.0},{"l":2334,"v":1.8},{"l":2338,"v":-3.6},{"l":2342,"v":2.7},{"l":2346,"v":-1.6},{"l":2350,"v":3.3},{"l":2354,"v":0.9},{"l":2358,"v":-2.8},{"l":2362,"v":2.1},{"l":2366,"v":-0.7},{"l":2370,"v":3.5},{"l":2374,"v":-2.5},{"l":2378,"v":1.4},{"l":2382,"v":-3.4},{"l":2386,"v":2.9},{"l":2390,"v":-1.3},{"l":2394,"v":1.0},{"l":2398,"v":3.8},
{"l":2301,"v":1.1},{"l":2305,"v":-1.8},{"l":2309,"v":0.5},{"l":2313,"v":2.3},{"l":2317,"v":-1.2},{"l":2321,"v":0.9},{"l":2325,"v":-2.4},{"l":2329,"v":1.6},{"l":2333,"v":-0.4},{"l":2337,"v":0.8},{"l":2341,"v":-1.5},{"l":2345,"v":2.6},{"l":2349,"v":0.2},{"l":2353,"v":-2.0},{"l":2357,"v":1.3},{"l":2361,"v":-0.8},{"l":2365,"v":1.9},{"l":2369,"v":-1.3},{"l":2373,"v":0.6},{"l":2377,"v":2.2},{"l":2381,"v":-2.2},{"l":2385,"v":1.0},{"l":2389,"v":-0.5},{"l":2393,"v":1.5},
{"l":2402,"v":-2.2},{"l":2406,"v":3.3},{"l":2410,"v":-3.7},{"l":2414,"v":1.6},{"l":2418,"v":2.8},{"l":2422,"v":-1.5},{"l":2426,"v":3.6},{"l":2430,"v":-3.0},{"l":2434,"v":-3.9},{"l":2438,"v":2.2},{"l":2442,"v":0.8},{"l":2446,"v":-2.6},{"l":2450,"v":3.1},{"l":2454,"v":-1.1},{"l":2458,"v":2.5},{"l":2462,"v":-3.3},{"l":2466,"v":1.3},{"l":2470,"v":3.7},{"l":2474,"v":-2.0},{"l":2478,"v":0.4},{"l":2482,"v":2.9},{"l":2486,"v":-2.9},{"l":2490,"v":1.9},{"l":2494,"v":-1.7},{"l":2498,"v":3.4},
{"l":2401,"v":-1.6},{"l":2405,"v":2.0},{"l":2409,"v":0.7},{"l":2413,"v":-2.3},{"l":2417,"v":1.4},{"l":2421,"v":-0.9},{"l":2425,"v":2.5},{"l":2429,"v":-1.2},{"l":2433,"v":0.4},{"l":2437,"v":1.8},{"l":2441,"v":-2.6},{"l":2445,"v":1.1},{"l":2449,"v":-0.3},{"l":2453,"v":2.2},{"l":2457,"v":-1.7},{"l":2461,"v":0.9},{"l":2465,"v":1.5},{"l":2469,"v":-1.0},{"l":2473,"v":2.7},{"l":2477,"v":-2.0},{"l":2481,"v":0.3},{"l":2485,"v":1.2},{"l":2489,"v":-1.4},{"l":2493,"v":2.4},
{"l":2502,"v":-2.4},{"l":2506,"v":2.6},{"l":2510,"v":-3.5},{"l":2514,"v":1.2},{"l":2518,"v":3.0},{"l":2522,"v":-1.8},{"l":2526,"v":2.2},{"l":2530,"v":-3.0},{"l":2534,"v":3.6},{"l":2538,"v":0.6},{"l":2542,"v":-2.7},{"l":2546,"v":2.9},{"l":2550,"v":-1.2},{"l":2554,"v":-3.1},{"l":2558,"v":3.2},{"l":2562,"v":1.7},{"l":2566,"v":-2.2},{"l":2570,"v":2.4},{"l":2574,"v":-3.6},{"l":2578,"v":1.0},{"l":2582,"v":3.4},{"l":2586,"v":-1.6},{"l":2590,"v":2.7},{"l":2594,"v":-2.8},{"l":2598,"v":1.5},{"l":2602,"v":3.0},{"l":2606,"v":-2.0},{"l":2610,"v":2.3},{"l":2614,"v":-3.3},{"l":2618,"v":3.7},
{"l":2501,"v":1.3},{"l":2505,"v":-2.1},{"l":2509,"v":0.8},{"l":2513,"v":2.3},{"l":2517,"v":-1.5},{"l":2521,"v":0.5},{"l":2525,"v":-2.5},{"l":2529,"v":1.8},{"l":2533,"v":-0.7},{"l":2537,"v":2.6},{"l":2541,"v":-1.2},{"l":2545,"v":1.0},{"l":2549,"v":-1.9},{"l":2553,"v":2.1},{"l":2557,"v":0.3},{"l":2561,"v":-2.3},{"l":2565,"v":1.5},{"l":2569,"v":-0.9},{"l":2573,"v":2.4},{"l":2577,"v":-1.6},{"l":2581,"v":0.6},{"l":2585,"v":1.9},{"l":2589,"v":-2.0},{"l":2593,"v":1.2},{"l":2601,"v":0.8},{"l":2605,"v":-1.7},{"l":2609,"v":2.2},{"l":2613,"v":-0.5},{"l":2617,"v":1.4}]
},
"resolve":{"axis":{"x":"independent","y":"independent"}},
"layer":[
{"data":{"name":"band"},"mark":{"type":"area","opacity":1,"clip":true},
 "encoding":{
  "x":{"field":"l","type":"quantitative","scale":{"domain":[0,2620],"nice":false,"zero":false},
   "axis":{"orient":"bottom","values":[100,200,300,400,500,600,700,800,900,1000,1100,1200,1300,1400,1500,1600,1700,1800,1900,2000,2100,2200,2300,2400,2500,2600],"format":"d","labelExpr":"datum.value % 500 === 0 ? datum.label : ''","tickSize":{"condition":{"test":"datum.value % 500 === 0","value":-6},"value":-3},"labelPadding":11,"title":"L","titlePadding":4}},
  "y":{"field":"u","type":"quantitative","scale":{"domain":[-4,4],"nice":false,"zero":false},
   "axis":{"orient":"left","values":[-4,-3,-2,-1,0,1,2,3,4],"labelExpr":"datum.value % 2 !== 0 ? '' : datum.value === 0 ? '0' : (datum.value < 0 ? '−' : '') + abs(datum.value) + '×10⁻⁸'","tickSize":{"condition":{"test":"datum.value % 2 === 0","value":-6},"value":-3},"labelPadding":10,"title":"L(L+1)/2π  ΔCₗᵈᵈ","titlePadding":8}},
  "y2":{"field":"d"},
  "color":{"datum":"Theoretical","type":"nominal",
   "scale":{"domain":["Theoretical","Mask & inpainting","Mask & inpainting (binned error)","1ˢᵗ order noise","2ⁿᵈ order noise"],"range":["#ffb000","#3cb2ee","#3a3296","#a0409e","#f0505a"]},
   "legend":{"orient":"none","legendX":15,"legendY":9,"title":null}}
 }},
{"data":{"name":"pts"},"mark":{"type":"point","filled":false,"opacity":0.8,"size":1225,"strokeWidth":1,"clip":true},
 "encoding":{"x":{"field":"l","type":"quantitative","axis":null},"y":{"field":"v","type":"quantitative","axis":null},
  "color":{"datum":"Mask & inpainting","type":"nominal","legend":{"orient":"none","legendX":15,"legendY":9,"title":null}},
  "shape":{"datum":"Mask & inpainting","type":"nominal","scale":{"domain":["Theoretical","Mask & inpainting","Mask & inpainting (binned error)","1ˢᵗ order noise","2ⁿᵈ order noise"],"range":["stroke","M-0.14,0H0.14M0,-0.14V0.14","M-0.2,0H0.2M0,-0.2V0.2","stroke","stroke"]},"legend":{"orient":"none","legendX":15,"legendY":9,"title":null}},
  "strokeDash":{"datum":"Mask & inpainting","type":"nominal","scale":{"domain":["Theoretical","Mask & inpainting","Mask & inpainting (binned error)","1ˢᵗ order noise","2ⁿᵈ order noise"],"range":[[1,0],[1,0],[1,0],[4,2],[7,3]]},"legend":{"orient":"none","legendX":15,"legendY":9,"title":null}}}},
{"data":{"name":"n2"},"mark":{"type":"line","strokeDash":[7,4],"strokeWidth":1,"clip":true},
 "encoding":{"x":{"field":"l","type":"quantitative","axis":null},"y":{"field":"v","type":"quantitative","axis":null},"color":{"datum":"2ⁿᵈ order noise","type":"nominal"}}},
{"data":{"name":"n1"},"mark":{"type":"line","strokeDash":[3,2],"strokeWidth":1,"clip":true},
 "encoding":{"x":{"field":"l","type":"quantitative","axis":null},"y":{"field":"v","type":"quantitative","axis":null},"color":{"datum":"1ˢᵗ order noise","type":"nominal"}}},
{"data":{"name":"bins"},"mark":{"type":"rule","strokeWidth":1.5},
 "encoding":{
  "x":{"field":"l","type":"quantitative","axis":{"orient":"top","labels":false,"title":null,"values":[100,200,300,400,500,600,700,800,900,1000,1100,1200,1300,1400,1500,1600,1700,1800,1900,2000,2100,2200,2300,2400,2500,2600],"tickSize":{"condition":{"test":"datum.value % 500 === 0","value":-6},"value":-3}}},
  "y":{"field":"lo","type":"quantitative","axis":{"orient":"right","labels":false,"title":null,"values":[-4,-3,-2,-1,0,1,2,3,4],"tickSize":{"condition":{"test":"datum.value % 2 === 0","value":-6},"value":-3}}},
  "y2":{"field":"hi"},
  "color":{"datum":"Mask & inpainting (binned error)","type":"nominal"}}},
{"data":{"name":"bins"},"mark":{"type":"rule","strokeWidth":1.5},
 "encoding":{"x":{"field":"a","type":"quantitative","axis":null},"x2":{"field":"b"},"y":{"field":"v","type":"quantitative","axis":null},"color":{"datum":"Mask & inpainting (binned error)","type":"nominal"}}},
{"data":{"name":"bins"},"mark":{"type":"tick","orient":"horizontal","size":6,"thickness":1.5,"opacity":1},
 "encoding":{"x":{"field":"l","type":"quantitative","axis":null},"y":{"field":"lo","type":"quantitative","axis":null},"color":{"datum":"Mask & inpainting (binned error)","type":"nominal"}}},
{"data":{"name":"bins"},"mark":{"type":"tick","orient":"horizontal","size":6,"thickness":1.5,"opacity":1},
 "encoding":{"x":{"field":"l","type":"quantitative","axis":null},"y":{"field":"hi","type":"quantitative","axis":null},"color":{"datum":"Mask & inpainting (binned error)","type":"nominal"}}}
]
}
